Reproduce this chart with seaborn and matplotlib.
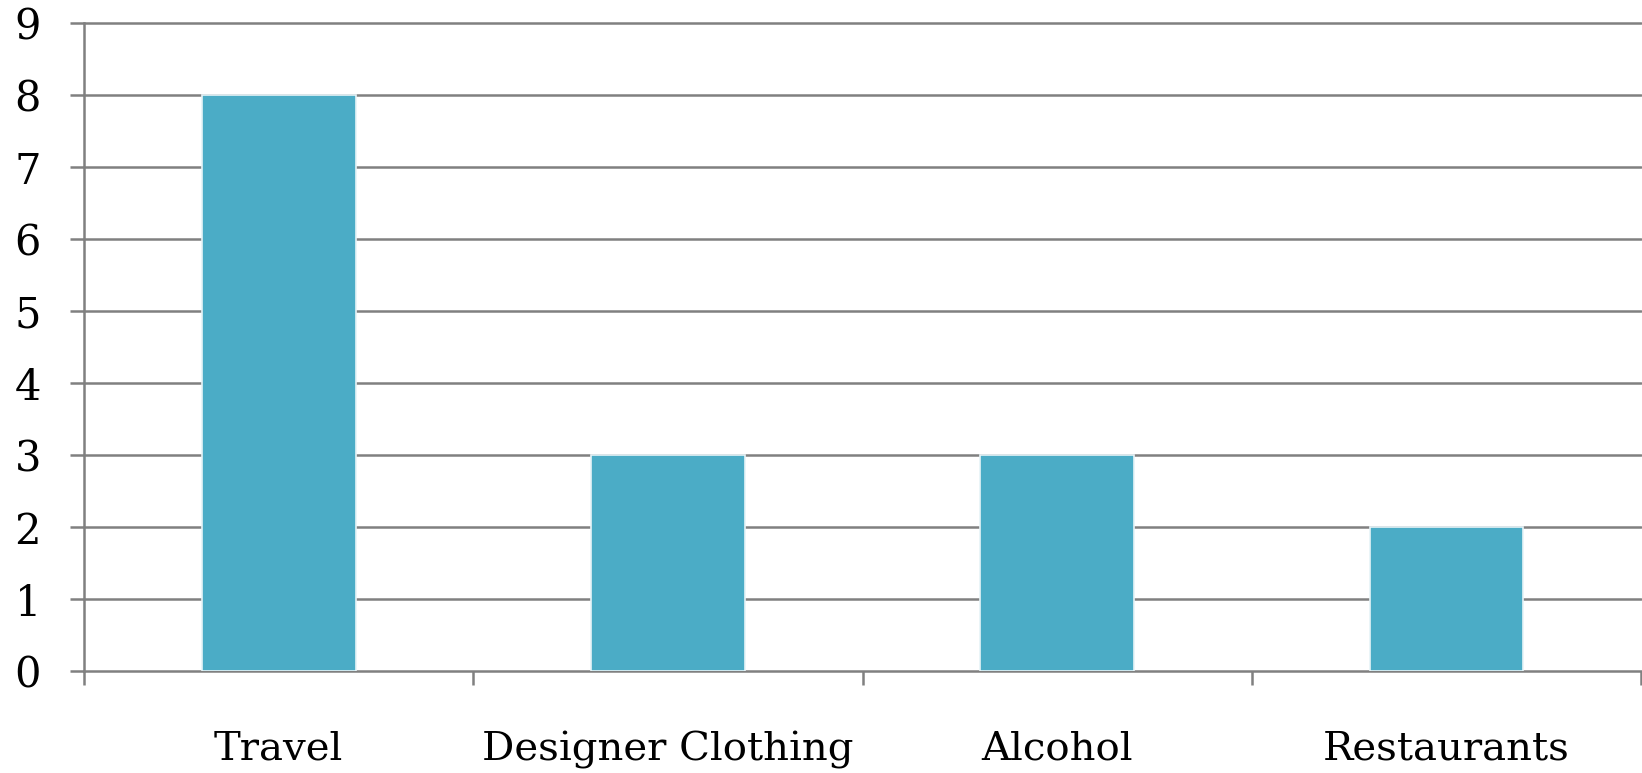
import matplotlib
matplotlib.use("Agg")
import matplotlib.pyplot as plt
import matplotlib.patheffects as pe
from matplotlib.ticker import FixedLocator
import seaborn as sns
import pandas as pd

categories = ["Travel", "Designer Clothing", "Alcohol", "Restaurants"]
values = [8, 3, 3, 2]
y_ticks = [0, 1, 2, 3, 4, 5, 6, 7, 8, 9]

sns.set_theme(style="white")
plt.rcParams["font.family"] = ["DejaVu Serif"]

df = pd.DataFrame({"category": categories, "value": values})

fig = plt.figure(figsize=(16.42, 7.73), dpi=100)
ax = fig.add_axes([84 / 1642, 1 - 671 / 773, 1 - 84 / 1642 - 0.0006, (671 - 23) / 773])

grid_color = "#808080"
for y in y_ticks[1:]:
    ax.axhline(y, color=grid_color, lw=1.8, zorder=0, clip_on=False)

sns.barplot(data=df, x="category", y="value", color="#4BACC6", saturation=1,
            width=0.395, edgecolor="#e6f3f7", linewidth=1.2, ax=ax, zorder=3)
for bar in ax.patches:
    bar.set_path_effects([pe.SimplePatchShadow(offset=(0, 0), shadow_rgbFace="#bdbdbd", alpha=0.6),
                          pe.Normal()])

ax.set_xlim(-0.5, len(categories) - 0.5)
ax.set_ylim(0, 9)
ax.set_yticks(y_ticks)
ax.set_xlabel("")
ax.set_ylabel("")

for side in ["top", "right"]:
    ax.spines[side].set_visible(False)
for side in ["left", "bottom"]:
    ax.spines[side].set_color(grid_color)
    ax.spines[side].set_linewidth(1.8)

ax.xaxis.set_minor_locator(FixedLocator([i - 0.5 for i in range(len(categories) + 1)]))
ax.tick_params(axis="x", which="major", length=0, pad=43, labelsize=29, colors="black")
ax.tick_params(axis="x", which="minor", length=10, width=1.8, color=grid_color, direction="out", bottom=True)
ax.tick_params(axis="y", which="major", length=10, width=1.8, color=grid_color, direction="out",
               left=True, pad=21, labelsize=30, labelcolor="black")

fig.savefig("out.png", dpi=100)
